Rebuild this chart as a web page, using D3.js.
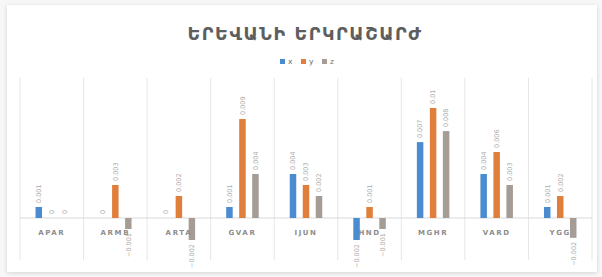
<!DOCTYPE html>
<html>
<head>
<meta charset="utf-8">
<script src="https://cdn.jsdelivr.net/npm/d3@7"></script>
<style>
  body { margin: 0; background: #f7f7f7; }
  svg { display: block; }
</style>
</head>
<body>
<svg width="602" height="277"></svg>
<script>
var categories = ['APAR', 'ARMB', 'ARTA', 'GVAR', 'IJUN', 'HND', 'MGHR', 'VARD', 'YGG'];
var series = ['x', 'y', 'z'];
var xValues = [0.001, 0, 0, 0.001, 0.004, -0.002, 0.0069, 0.004, 0.001];
var yValues = [0, 0.003, 0.002, 0.009, 0.003, 0.001, 0.01, 0.006, 0.002];
var zValues = [0, -0.001, -0.002, 0.004, 0.002, -0.001, 0.0079, 0.003, -0.0018];
var colors = ['#4b8bd0', '#e07f3c', '#a59c95'];

var svg = d3.select('svg');

// card
var defs = svg.append('defs');
var f = defs.append('filter').attr('id', 'sh').attr('x', '-5%').attr('y', '-5%').attr('width', '110%').attr('height', '110%');
f.append('feDropShadow').attr('dx', 0).attr('dy', 1).attr('stdDeviation', 2).attr('flood-color', '#000').attr('flood-opacity', 0.15);
svg.append('rect').attr('x', 7).attr('y', 5).attr('width', 590).attr('height', 267)
  .attr('fill', '#fff').attr('filter', 'url(#sh)');

svg.append('text').attr('x', 305).attr('y', 40).attr('text-anchor', 'middle')
  .attr('font-family', 'DejaVu Sans, sans-serif').attr('font-size', 17.5).attr('font-weight', 'bold')
  .attr('letter-spacing', 1.6).attr('fill', '#5e5e5e')
  .text('ԵՐԵՎԱՆԻ ԵՐԿՐԱՇԱՐԺ');

// legend
var legend = svg.append('g').attr('transform', 'translate(280,62)');
series.forEach(function(s, i) {
  var g = legend.append('g').attr('transform', 'translate(' + (i * 21) + ',0)');
  g.append('rect').attr('x', 0).attr('y', -3).attr('width', 5).attr('height', 5).attr('fill', colors[i]);
  g.append('text').attr('x', 8).attr('y', 2).attr('font-family', 'DejaVu Sans, sans-serif')
    .attr('font-size', 7.5).attr('fill', '#707070').text(s);
});

var x0 = d3.scaleBand().domain(categories).range([20, 592]);
var x1 = d3.scaleBand().domain(series).range([-19.5, 19.5]).paddingInner(0.5).paddingOuter(0.25);
var y = d3.scaleLinear().domain([-0.004, 0.012]).range([262, 86]);

// vertical separators
var seps = x0.domain().map(function(c) { return x0(c); }).concat([592]);
svg.append('g').selectAll('line').data(seps).enter().append('line')
  .attr('x1', function(d) { return d; }).attr('x2', function(d) { return d; })
  .attr('y1', 78).attr('y2', 260).attr('stroke', '#e6e6e6').attr('stroke-width', 1);

// baseline
svg.append('line').attr('x1', 20).attr('x2', 592).attr('y1', y(0)).attr('y2', y(0))
  .attr('stroke', '#d9d9d9').attr('stroke-width', 1);

var data = categories.map(function(c, i) {
  return { cat: c, vals: [xValues[i], yValues[i], zValues[i]] };
});

var fmt = d3.format('.3~f');
var groups = svg.append('g').selectAll('g').data(data).enter().append('g')
  .attr('transform', function(d) { return 'translate(' + (x0(d.cat) + x0.bandwidth() / 2) + ',0)'; });

groups.selectAll('rect').data(function(d) { return d.vals; }).enter().append('rect')
  .attr('x', function(d, i) { return x1(series[i]); })
  .attr('width', x1.bandwidth())
  .attr('y', function(d) { return Math.min(y(d), y(0)); })
  .attr('height', function(d) { return Math.abs(y(d) - y(0)); })
  .attr('fill', function(d, i) { return colors[i]; });

groups.selectAll('text.v').data(function(d) { return d.vals; }).enter().append('text')
  .attr('class', 'v')
  .attr('transform', function(d, i) {
    var cx = x1(series[i]) + x1.bandwidth() / 2 + 2.3;
    var yy = d >= 0 ? y(d) - 4 : y(d) + 4;
    return 'translate(' + cx + ',' + yy + ') rotate(-90)';
  })
  .attr('text-anchor', function(d) { return d >= 0 ? 'start' : 'end'; })
  .attr('font-family', 'DejaVu Sans, sans-serif').attr('font-size', 6.5)
  .attr('fill', '#ababab')
  .text(function(d) { return fmt(d); });

// category labels
svg.append('g').selectAll('text').data(categories).enter().append('text')
  .attr('x', function(d) { return x0(d) + x0.bandwidth() / 2; })
  .attr('y', 235).attr('text-anchor', 'middle')
  .attr('font-family', 'DejaVu Sans, sans-serif').attr('font-size', 7).attr('font-weight', 'bold')
  .attr('letter-spacing', 1.6).attr('fill', '#8c8c8c')
  .text(function(d) { return d; });
</script>
</body>
</html>
